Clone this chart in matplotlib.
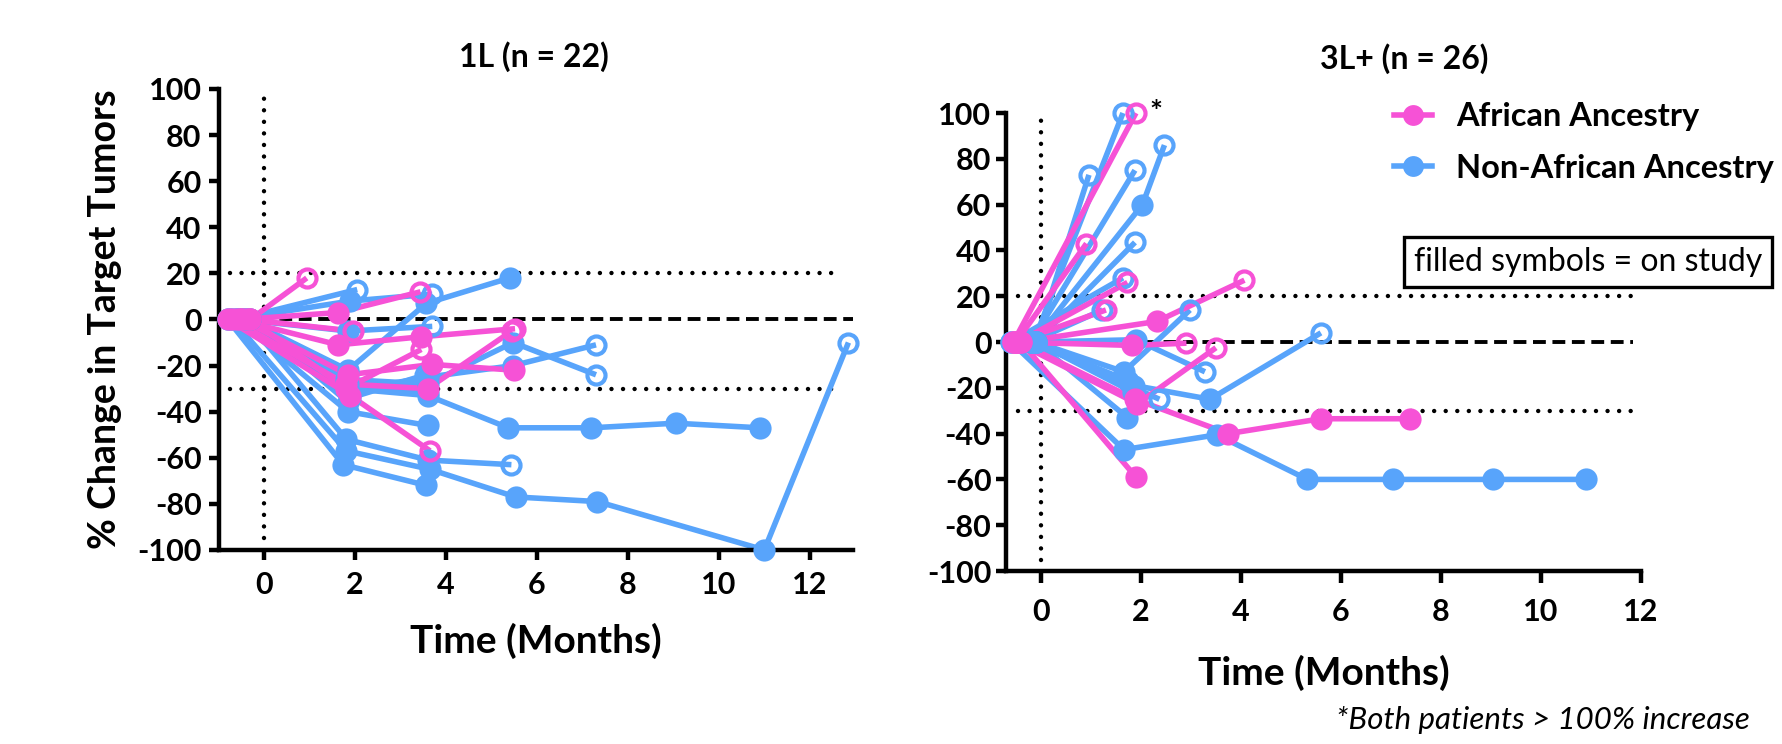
import matplotlib.pyplot as plt
from matplotlib.lines import Line2D

PINK = '#f652d6'
BLUE = '#58a4fb'

# values: one list per patient, baseline scan first
# 1L panel, African ancestry
L1_AFR_TIME = [
    [-0.30, 0.94],
    [-0.50, 1.63, 3.44],
    [-0.40, 1.95],
    [-0.60, 1.63, 3.46, 5.52],
    [-0.70, 1.80, 3.60, 5.45],
    [-0.50, 1.85, 3.70, 5.50],
    [-0.80, 1.90, 3.65],
    [-0.30, 1.80, 3.46],
]
L1_AFR_CHANGE = [
    [0, 18],
    [0, 3, 12],
    [0, -5],
    [0, -11, -7.5, -4],
    [0, -28, -30, -5],
    [0, -24, -19.5, -22],
    [0, -33, -57],
    [0, -30, -13],
]
L1_AFR_ON_STUDY = [False, False, False, False, False, True, False, False]

# 1L panel, non-African ancestry
L1_NON_TIME = [
    [-0.60, 2.05],
    [-0.40, 1.85, 3.57, 5.40],
    [-0.70, 1.90, 3.70],
    [-0.50, 1.85, 3.70],
    [-0.30, 1.80, 3.60, 5.48, 7.30],
    [-0.80, 1.85, 3.60, 5.48, 7.30],
    [-0.60, 1.85, 3.60],
    [-0.50, 1.85, 3.60, 5.37, 7.20, 9.05, 10.90],
    [-0.70, 1.81, 3.65, 5.53, 7.33, 11.00, 12.85],
    [-0.40, 1.81, 3.61, 5.44],
    [-0.80, 1.74, 3.57],
    [-0.30, 1.85],
    [-0.60, 1.85, 3.60],
    [-0.45, 1.90, 3.55],
]
L1_NON_CHANGE = [
    [0, 13],
    [0, -22, 7, 18],
    [0, 8, 11],
    [0, -5, -3],
    [0, -26, -28, -10, -24],
    [0, -31, -25, -20, -11],
    [0, -40, -46],
    [0, -30, -33, -47, -47, -45, -47],
    [0, -57, -65, -77, -79, -100, -10],
    [0, -52, -61, -63],
    [0, -63, -72],
    [0, -36],
    [0, -28, -32],
    [0, -34, -24],
]
L1_NON_ON_STUDY = [False, True, False, False, False, False, True, True,
                   False, False, True, True, True, False]

# 3L+ panel, African ancestry
L3_AFR_TIME = [
    [-0.50, 0.91],
    [-0.55, 1.90],
    [-0.45, 1.73],
    [-0.50, 1.30],
    [-0.40, 2.32, 4.07],
    [-0.55, 1.83, 2.91],
    [-0.45, 1.88, 3.75, 5.60, 7.39],
    [-0.50, 1.93, 3.50],
    [-0.40, 1.90],
]
L3_AFR_CHANGE = [
    [0, 43],
    [0, 100],
    [0, 26],
    [0, 14],
    [0, 9, 27],
    [0, -1.5, -0.5],
    [0, -25, -40, -33.5, -33.5],
    [0, -27, -2.5],
    [0, -59],
]
L3_AFR_ON_STUDY = [False, False, False, False, False, False, True, False, True]

# 3L+ panel, non-African ancestry
L3_NON_TIME = [
    [-0.15, 1.64],
    [-0.10, 0.96],
    [-0.20, 1.88],
    [-0.15, 2.03, 2.47],
    [-0.10, 1.88],
    [-0.60, 1.64],
    [-0.20, 1.23],
    [-0.15, 1.90, 3.28],
    [-0.10, 1.66, 2.98],
    [-0.20, 1.87, 3.38, 5.60],
    [-0.15, 2.37],
    [-0.10, 1.73],
    [-0.60, 1.66, 3.52, 5.33, 7.04, 9.05, 10.90],
    [-0.15, 1.75],
    [-0.10, 1.85],
]
L3_NON_CHANGE = [
    [0, 100],
    [0, 73],
    [0, 75],
    [0, 60, 86],
    [0, 43.5],
    [0, 28],
    [0, 14],
    [0, 1, -13],
    [0, -13, 14],
    [0, -19, -25, 4],
    [0, -25],
    [0, -33],
    [0, -47, -40.5, -60, -60, -60, -60],
    [0, -17],
    [0, -22],
]
L3_NON_ON_STUDY = [False, False, False, False, False, False, False, False,
                   False, False, False, True, True, True, True]

Y_TICKS = list(range(-100, 101, 20))
X_TICKS = list(range(0, 13, 2))
PD_LINE = 20
PR_LINE = -30

plt.rcParams['font.family'] = ['Lato', 'DejaVu Sans']
plt.rcParams['font.weight'] = 'bold'
plt.rcParams['axes.labelweight'] = 'bold'
plt.rcParams['axes.unicode_minus'] = False

DOTTED = dict(color='black', lw=3.2, linestyle=(0, (0.001, 2.6)),
              capstyle='round', zorder=1)
DASHED = dict(color='black', lw=2.8, linestyle=(0, (3.3, 1.7)), zorder=1)


def draw_patients(ax, times, changes, on_study, color):
  for t, v, on in zip(times, changes, on_study):
    ax.plot(t, v, color=color, lw=4, solid_capstyle='butt',
            clip_on=False, zorder=2)
    ax.plot(t[:-1], v[:-1], 'o', ms=16, color=color, mew=0,
            clip_on=False, zorder=3)
    if on:
      ax.plot(t[-1:], v[-1:], 'o', ms=16, color=color, mew=0,
              clip_on=False, zorder=3)
    else:
      ax.plot(t[-1:], v[-1:], 'o', ms=13, mfc='none', mec=color, mew=3,
              clip_on=False, zorder=3)


def style_axis(ax, xlim, ylim, xpad, ypad, xlen):
  ax.set_xlim(*xlim)
  ax.set_ylim(*ylim)
  ax.set_xticks(X_TICKS)
  ax.set_yticks(Y_TICKS)
  for side in ('top', 'right'):
    ax.spines[side].set_visible(False)
  for side in ('left', 'bottom'):
    ax.spines[side].set_linewidth(3.2)
  ax.tick_params(width=3.2, labelsize=22)
  ax.tick_params(axis='x', length=xlen, pad=xpad)
  ax.tick_params(axis='y', length=7.5, pad=ypad)
  for label in ax.get_xticklabels() + ax.get_yticklabels():
    label.set_fontweight('bold')


fig = plt.figure(figsize=(17.83, 7.44), dpi=100)

ax1 = fig.add_axes([0.1228, 0.2608, 0.3556, 0.6196])
style_axis(ax1, (-0.99, 12.95), (-100, 100), 8, 5, 7.5)
ax1.vlines(0, -95, 100, **DOTTED)
ax1.hlines([PD_LINE, PR_LINE], -0.75, 12.7, **DOTTED)
ax1.hlines(0, -0.95, 13.0, **DASHED)
draw_patients(ax1, L1_NON_TIME, L1_NON_CHANGE, L1_NON_ON_STUDY, BLUE)
draw_patients(ax1, L1_AFR_TIME, L1_AFR_CHANGE, L1_AFR_ON_STUDY, PINK)
ax1.set_xlabel('Time (Months)', fontsize=28, labelpad=17)
ax1.set_ylabel('% Change in Target Tumors', fontsize=27, labelpad=11)

ax2 = fig.add_axes([0.5642, 0.2325, 0.3561, 0.6156])
style_axis(ax2, (-0.70, 12.0), (-100, 100), 11, 3, 8.5)
ax2.vlines(0, -95, 100, **DOTTED)
ax2.hlines([PD_LINE, PR_LINE], -0.46, 11.85, **DOTTED)
ax2.hlines(0, -0.65, 11.85, **DASHED)
draw_patients(ax2, L3_NON_TIME, L3_NON_CHANGE, L3_NON_ON_STUDY, BLUE)
draw_patients(ax2, L3_AFR_TIME, L3_AFR_CHANGE, L3_AFR_ON_STUDY, PINK)
ax2.text(2.3, 100, '*', fontsize=22, ha='center', va='center')
ax2.set_xlabel('Time (Months)', fontsize=28, labelpad=21)

fig.text(534 / 1783, 1 - 57 / 744, '1L (n = 22)', fontsize=23,
         ha='center', va='center')
fig.text(1404 / 1783, 1 - 59 / 744, '3L+ (n = 26)', fontsize=23,
         ha='center', va='center')

handles = [Line2D([], [], color=PINK, lw=4, marker='o', ms=15, mew=0),
           Line2D([], [], color=BLUE, lw=4, marker='o', ms=15, mew=0)]
fig.legend(handles, ['African Ancestry', 'Non-African Ancestry'],
           loc='upper left', bbox_to_anchor=(1381 / 1783, 1 - 89 / 744),
           frameon=False, fontsize=23.5, handlelength=1.15,
           handletextpad=0.75, labelspacing=0.7, borderaxespad=0)

fig.text(1588 / 1783, 1 - 262 / 744, 'filled symbols = on study',
         fontsize=23, fontweight='normal', ha='center', va='center',
         bbox=dict(boxstyle='square,pad=0.3', fc='white', ec='black', lw=2.4))
fig.text(1750 / 1783, 1 - 720 / 744, '*Both patients > 100% increase',
         fontsize=22.5, fontweight='normal', style='italic',
         ha='right', va='center')

fig.savefig('out.png', dpi=100)
